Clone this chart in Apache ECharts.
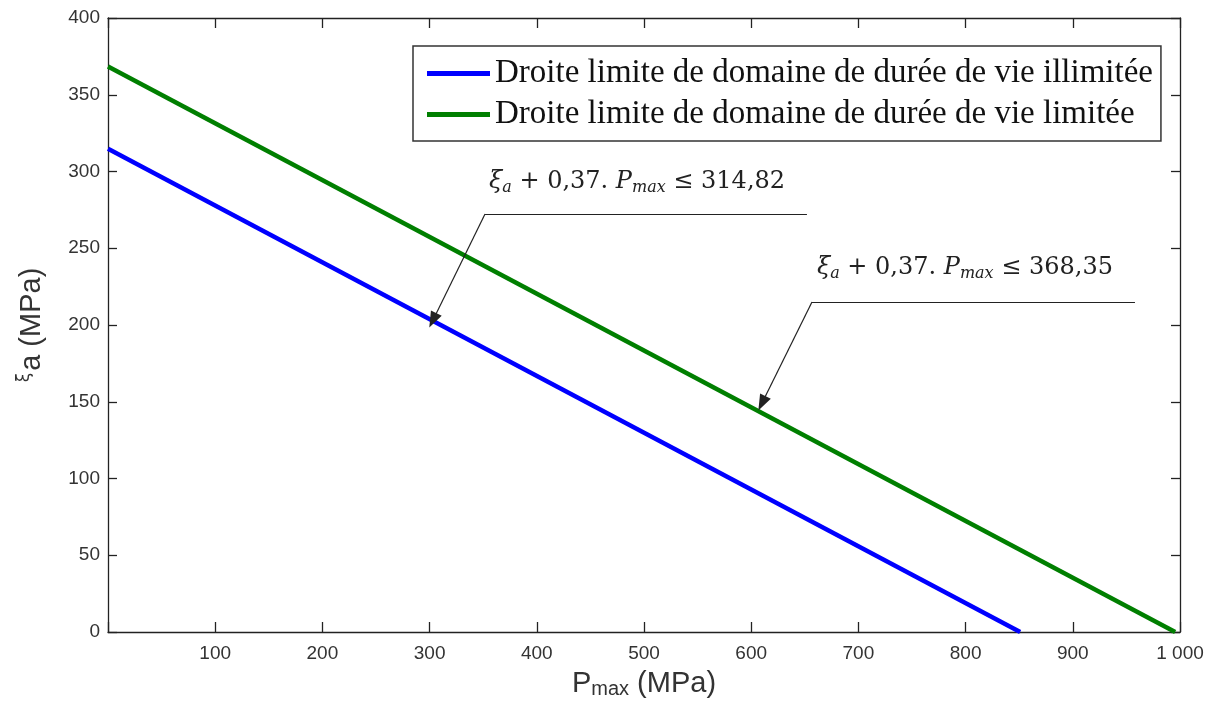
<!DOCTYPE html>
<html>
<head>
<meta charset="utf-8">
<script src="https://cdn.jsdelivr.net/npm/echarts@6/dist/echarts.min.js"></script>
<style>
    html, body { margin: 0; padding: 0; background: #fff; }
    #container { width: 1213px; height: 710px; }
</style>
</head>
<body>
<div id="container"></div>
<script>
// ligne limite, domaine de duree de vie illimitee
var illimiteeP = [0, 850.9];
var illimiteeXi = [314.82, 0];
// ligne limite, domaine de duree de vie limitee
var limiteeP = [0, 995.5];
var limiteeXi = [368.35, 0];

var seriesNames = ['Droite limite de domaine de durée de vie illimitée',
                   'Droite limite de domaine de durée de vie limitée'];

// annotations: [texte, ancre du texte, coude du trait, fin du trait horizontal, pointe de fleche]
var note1Value = '314,82';
var note1Text = [493.5, 293];
var note1Elbow = [351.7, 272.3];
var note1End = [652, 272.3];
var note1Tip = [303, 203];

var note2Value = '368,35';
var note2Text = [799.4, 237];
var note2Elbow = [656.7, 215];
var note2End = [958, 215];
var note2Tip = [610, 149];

var xTicks = [0, 100, 200, 300, 400, 500, 600, 700, 800, 900, 1000];
var yTicks = [0, 50, 100, 150, 200, 250, 300, 350, 400];

var dom = document.getElementById("container");
var myChart = echarts.init(dom);

function pairs(xs, ys) {
    var out = [];
    for (var i = 0; i < xs.length; i++) {
        out.push([xs[i], ys[i]]);
    }
    return out;
}

var mathRich = {
    i: { fontFamily: 'DejaVu Serif', fontStyle: 'italic', fontSize: 24, color: '#222', lineHeight: 28 },
    s: { fontFamily: 'DejaVu Serif', fontStyle: 'italic', fontSize: 16, color: '#222', lineHeight: 16,
         verticalAlign: 'bottom', padding: [12, 0, 0, 0] },
    t: { fontFamily: 'DejaVu Serif', fontSize: 24, color: '#222', lineHeight: 28 }
};

function noteText(v) {
    return '{i|ξ}{s|a}{t| + 0,37. }{i|P}{s|max}{t| ≤ ' + v + '}';
}

function annotation(text, textPos, elbow, end, tip) {
    return {
        type: 'line',
        xAxisIndex: 0,
        yAxisIndex: 0,
        data: [],
        silent: true,
        markLine: {
            silent: true,
            animation: false,
            label: { show: false },
            lineStyle: { color: '#222', width: 1.2, type: 'solid' },
            data: [
                [{ coord: end, symbol: 'none' }, { coord: elbow, symbol: 'none' }],
                [{ coord: elbow, symbol: 'none' }, { coord: tip, symbol: 'triangle', symbolSize: [12, 16] }]
            ]
        },
        markPoint: {
            silent: true,
            animation: false,
            symbol: 'circle',
            symbolSize: 0,
            label: {
                show: true,
                position: 'inside',
                formatter: text,
                rich: mathRich
            },
            data: [{ coord: textPos }]
        }
    };
}

var axisLineStyle = { color: '#222', width: 1.3 };

option = {
    animation: false,
    backgroundColor: '#fff',
    grid: { left: 108, right: 33, top: 18, bottom: 78, outerBoundsMode: 'none' },
    legend: {
        orient: 'vertical',
        left: 413,
        top: 46,
        padding: [11, 8, 10, 14],
        itemGap: 8,
        itemWidth: 63,
        itemHeight: 5,
        icon: 'rect',
        borderColor: '#333',
        borderWidth: 1.5,
        backgroundColor: '#fff',
        textStyle: { fontFamily: 'Liberation Serif', fontSize: 33, color: '#111', lineHeight: 32 },
        data: seriesNames
    },
    xAxis: [{
        type: 'value',
        min: 0,
        max: 1000,
        interval: 100,
        name: '{n|P}{s|max}{n| (MPa)}',
        nameLocation: 'middle',
        nameGap: 37,
        nameMoveOverlap: false,
        nameTextStyle: {
            rich: {
                n: { fontFamily: 'Liberation Sans', fontSize: 29, color: '#333', lineHeight: 30 },
                s: { fontFamily: 'Liberation Sans', fontSize: 20, color: '#333', lineHeight: 20,
                     verticalAlign: 'bottom', padding: [26, 0, 0, 0] }
            }
        },
        axisLine: { show: true, onZero: false, lineStyle: axisLineStyle },
        axisTick: { show: true, inside: true, length: 10, lineStyle: axisLineStyle },
        axisLabel: {
            margin: 12,
            fontFamily: 'Liberation Sans',
            fontSize: 19,
            color: '#333',
            formatter: function (v) {
                if (v === 0) return '';
                if (v === 1000) return '1 000';
                return v;
            }
        },
        splitLine: { show: false }
    }, {
        type: 'value',
        position: 'top',
        min: 0,
        max: 1000,
        interval: 100,
        axisLine: { show: true, onZero: false, lineStyle: axisLineStyle },
        axisTick: { show: true, inside: true, length: 10, lineStyle: axisLineStyle },
        axisLabel: { show: false },
        splitLine: { show: false }
    }],
    yAxis: [{
        type: 'value',
        min: 0,
        max: 400,
        interval: 50,
        name: '{x|ξ}{n|a (MPa)}',
        nameLocation: 'middle',
        nameRotate: 90,
        nameGap: 60,
        nameTextStyle: {
            rich: {
                n: { fontFamily: 'Liberation Sans', fontSize: 29, color: '#333', lineHeight: 32 },
                x: { fontFamily: 'DejaVu Sans', fontSize: 17, color: '#333', lineHeight: 32,
                     verticalAlign: 'top', padding: [0, 2, 10, 0] }
            }
        },
        axisLine: { show: true, onZero: false, lineStyle: axisLineStyle },
        axisTick: { show: true, inside: true, length: 9, lineStyle: axisLineStyle },
        axisLabel: {
            margin: 8,
            fontFamily: 'Liberation Sans',
            fontSize: 19,
            color: '#333'
        },
        splitLine: { show: false }
    }, {
        type: 'value',
        position: 'right',
        min: 0,
        max: 400,
        interval: 50,
        axisLine: { show: true, onZero: false, lineStyle: axisLineStyle },
        axisTick: { show: true, inside: true, length: 9, lineStyle: axisLineStyle },
        axisLabel: { show: false },
        splitLine: { show: false }
    }],
    series: [{
        name: seriesNames[0],
        type: 'line',
        symbol: 'none',
        lineStyle: { color: '#0000ff', width: 4.5 },
        itemStyle: { color: '#0000ff' },
        data: pairs(illimiteeP, illimiteeXi)
    }, {
        name: seriesNames[1],
        type: 'line',
        symbol: 'none',
        lineStyle: { color: '#007f00', width: 4.5 },
        itemStyle: { color: '#007f00' },
        data: pairs(limiteeP, limiteeXi)
    },
    annotation(noteText(note1Value), note1Text, note1Elbow, note1End, note1Tip),
    annotation(noteText(note2Value), note2Text, note2Elbow, note2End, note2Tip)
    ]
};

if (option && typeof option === "object") {
    myChart.setOption(option, true);
}
</script>
</body>
</html>
